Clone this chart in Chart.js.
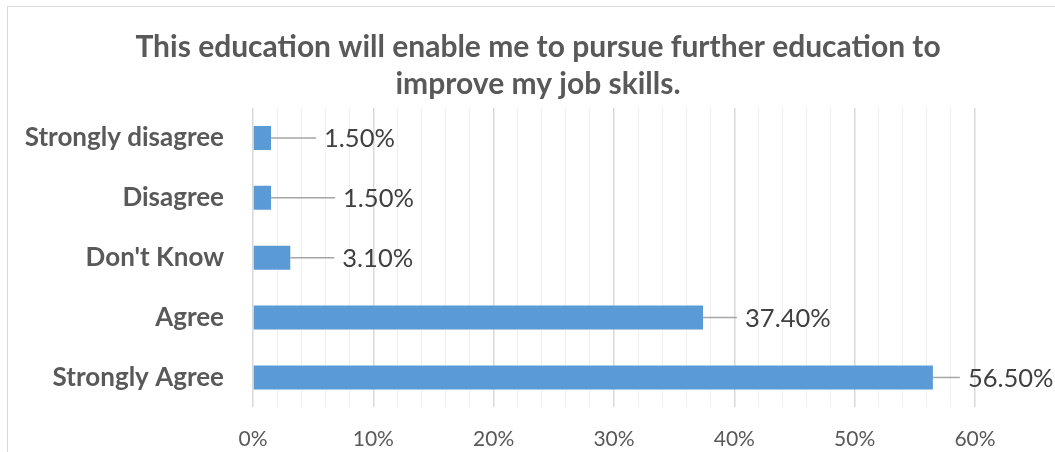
<!DOCTYPE html>
<html>
<head>
<meta charset="utf-8">
<script src="https://cdn.jsdelivr.net/npm/chart.js@4"></script>
<style>
  html, body { margin: 0; padding: 0; background: #fff; overflow: hidden; }
  #wrap { position: relative; width: 1055px; height: 452px; }
  #frame { position: absolute; left: 7px; top: 6px; width: 1100px; height: 500px; border: 1px solid #d9d9d9; box-sizing: border-box; pointer-events: none; }
  canvas { position: absolute; left: 0; top: 0; }
</style>
</head>
<body>
<div id="wrap">
  <canvas id="skillsChart" width="1055" height="452"></canvas>
  <div id="frame"></div>
</div>
<script>
// survey answers, top to bottom
const answers = ['Strongly disagree', 'Disagree', "Don't Know", 'Agree', 'Strongly Agree'];
const shares = [1.5, 1.5, 3.1, 37.4, 56.5];
const titleLines = ['This education will enable me to pursue further education to', 'improve my job skills.'];

// distance from bar end to where each value label starts (px)
const calloutGap = [53, 72, 52, 42, 35];

(function(){
  const grey = '#595959';
  const font = 'Lato, "Noto Sans", sans-serif';

  // title is centred on the whole frame, not just the plot, so it is drawn by hand
  const titlePlugin = {
    id: 'frameTitle',
    afterDraw(chart) {
      const ctx = chart.ctx;
      ctx.save();
      ctx.font = 'bold 30px ' + font;
      ctx.fillStyle = grey;
      ctx.textAlign = 'center';
      ctx.textBaseline = 'alphabetic';
      titleLines.forEach((line, i) => ctx.fillText(line, 538, 57 + i * 37));
      ctx.restore();
    }
  };

  const calloutPlugin = {
    id: 'callouts',
    afterDatasetsDraw(chart) {
      const ctx = chart.ctx;
      const meta = chart.getDatasetMeta(0);
      ctx.save();
      ctx.font = '25.5px ' + font;
      ctx.fillStyle = '#404040';
      ctx.textAlign = 'left';
      ctx.textBaseline = 'middle';
      meta.data.forEach((bar, i) => {
        const gap = calloutGap[i];
        ctx.strokeStyle = '#a6a6a6';
        ctx.lineWidth = 1.5;
        ctx.beginPath();
        ctx.moveTo(bar.x, bar.y);
        ctx.lineTo(bar.x + gap - 8, bar.y);
        ctx.stroke();
        ctx.fillText(shares[i].toFixed(2) + '%', bar.x + gap, bar.y + 1);
      });
      ctx.restore();
    }
  };

  new Chart(document.getElementById('skillsChart'), {
    type: 'bar',
    data: {
      labels: answers,
      datasets: [{
        data: shares,
        backgroundColor: '#5b9bd5',
        categoryPercentage: 0.8,
        barPercentage: 0.5
      }]
    },
    options: {
      indexAxis: 'y',
      responsive: false,
      animation: false,
      layout: { padding: { left: 0, right: 80, top: 108, bottom: 0 } },
      plugins: {
        legend: { display: false },
        tooltip: { enabled: false },
        title: { display: false }
      },
      scales: {
        x: {
          min: 0,
          max: 60,
          ticks: {
            stepSize: 2,
            autoSkip: false,
            maxRotation: 0,
            color: grey,
            font: { family: font, size: 21 },
            padding: 19,
            callback: v => (v % 10 === 0 ? v + '%' : '')
          },
          grid: {
            drawTicks: false,
            color: c => (c.tick && c.tick.value % 10 === 0 ? '#d9d9d9' : '#f0f0f0'),
            lineWidth: c => (c.tick && c.tick.value % 10 === 0 ? 1.5 : 1)
          },
          border: { display: false },
          afterFit: s => { s.height = 44; }
        },
        y: {
          ticks: {
            color: grey,
            font: { family: font, size: 26, weight: 'bold' },
            padding: 29
          },
          grid: { display: false, drawTicks: false },
          border: { display: false },
          afterFit: s => { s.width = 253; }
        }
      }
    },
    plugins: [titlePlugin, calloutPlugin]
  });
})();
</script>
</body>
</html>
